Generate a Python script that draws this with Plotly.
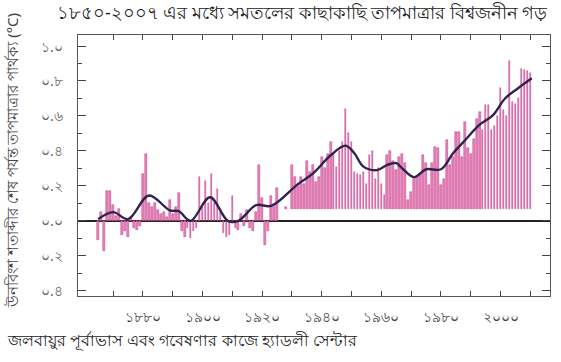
import plotly.graph_objects as go

# ---- data ----
years = list(range(1865, 2011))
bar_top = [
    -0.11, 0.05, -0.17, 0.17, 0.17, 0.09, 0.03, 0.07, -0.08, -0.06,   # 1865-1874
    -0.09, 0.02, -0.04, -0.05, -0.03, 0.27, 0.38, 0.10, 0.08, 0.10,   # 1875-1884
    0.06, 0.04, 0.05, 0.02, 0.12, 0.04, 0.08, 0.16, -0.06, -0.09,     # 1885-1894
    -0.04, -0.10, -0.06, -0.04, 0.25, 0.08, 0.23, 0.10, 0.27, 0.10,   # 1895-1904
    0.18, 0.05, -0.07, -0.09, -0.08, 0.14, -0.04, -0.05, 0.04, -0.03, # 1905-1914
    0.06, -0.04, -0.06, 0.05, 0.32, 0.13, -0.14, -0.06, 0.14, 0.08,   # 1915-1924
    0.19, None, None, 0.08, None, 0.32, 0.25, 0.20, 0.25, 0.21,       # 1925-1934
    0.34, 0.28, 0.32, 0.22, 0.25, 0.365, 0.30, 0.385, 0.45, 0.385,    # 1935-1944
    0.31, 0.40, 0.45, 0.64, 0.50, 0.45, 0.28, 0.27, 0.26, 0.28,       # 1945-1954
    0.21, 0.375, 0.40, 0.24, 0.30, 0.21, 0.145, 0.375, 0.40, 0.345,   # 1955-1964
    0.29, 0.365, 0.385, 0.33, 0.12, 0.165, 0.24, 0.25, 0.27, 0.375,   # 1965-1974
    0.33, 0.205, 0.33, 0.42, 0.415, 0.205, 0.24, 0.46, 0.32, 0.365,   # 1975-1984
    0.51, 0.51, 0.365, 0.565, 0.415, 0.385, 0.47, 0.585, 0.62, 0.52,  # 1985-1994
    0.66, 0.66, 0.52, 0.54, 0.60, 0.76, 0.635, 0.60, 0.915, 0.68,     # 1995-2004
    0.67, 0.70, 0.87, 0.86, 0.855, 0.845,                             # 2005-2010
]
bar_base = [0.0] * 61 + [0.065] * 85

smooth_years = [1865, 1870, 1875, 1882, 1889, 1892, 1896, 1902.5, 1908.5, 1912,
                1918, 1923, 1932, 1937, 1943, 1948, 1951, 1954, 1958.5, 1962,
                1965, 1967, 1971, 1975, 1980, 1984, 1987.5, 1993, 1997.5, 2001.5,
                2006, 2010.5]
smooth_vals = [0.01, 0.05, 0.01, 0.145, 0.06, 0.055, 0.0, 0.135, 0.0, 0.0,
               0.09, 0.085, 0.21, 0.27, 0.375, 0.43, 0.385, 0.31, 0.29, 0.32,
               0.33, 0.30, 0.25, 0.295, 0.295, 0.385, 0.45, 0.55, 0.605, 0.70,
               0.76, 0.815]

x_tickvals = [1870, 1880, 1890, 1900, 1910, 1920, 1930, 1940, 1950, 1960, 1970, 1980, 1990, 2000, 2010]
x_ticktext = ["", "১৮৮০", "", "১৯০০", "", "১৯২০", "", "১৯৪০", "", "১৯৬০", "", "১৯৮০", "", "২০০০", ""]
y_tickvals = [1.0, 0.8, 0.6, 0.4, 0.2, 0.0, -0.2, -0.4]
y_ticktext = ["১.০", "০.৮", "০.৬", "০.৪", "০.২", "০.০", "০.২", "০.৪"]

title_text = "১৮৫০-২০০৭ এর মধ্যে সমতলের কাছাকাছি তাপমাত্রার বিশ্বজনীন গড়"
ylabel_text = "উনবিংশ শতাব্দীর শেষ পর্যন্ত তাপমাত্রার পার্থক্য (°C)"
footer_text = "জলবায়ুর পূর্বাভাস এবং গবেষণার কাজে হ্যাডলী সেন্টার"

heights = [None if t is None else t - b for t, b in zip(bar_top, bar_base)]

fig = go.Figure()
fig.add_trace(go.Bar(
    x=years, y=heights, base=bar_base, width=0.55,
    marker=dict(color="rgba(230,120,180,0.92)", line=dict(color="#C23A85", width=0.5)),
    showlegend=False, hoverinfo="skip",
))
fig.add_trace(go.Scatter(
    x=smooth_years, y=smooth_vals, mode="lines",
    line=dict(color="#2E2450", width=2.4, shape="spline", smoothing=1.0),
    showlegend=False, hoverinfo="skip",
))

FONT = "Noto Sans, DejaVu Sans, sans-serif"

annotations = [
    dict(text=title_text, xref="paper", yref="paper", x=-0.049, y=1.088,
         xanchor="left", yanchor="middle", showarrow=False,
         font=dict(size=17.5, color="#222", family=FONT)),
    dict(text=ylabel_text, xref="paper", yref="paper", x=-0.14, y=0.52,
         xanchor="center", yanchor="middle", textangle=-90, showarrow=False,
         font=dict(size=15, color="#444", family=FONT)),
    dict(text=footer_text, xref="paper", yref="paper", x=-0.155, y=-0.168,
         xanchor="left", yanchor="middle", showarrow=False,
         font=dict(size=16, color="#222", family=FONT)),
]
# y tick labels placed on the y scale
for v, t in zip(y_tickvals, y_ticktext):
    annotations.append(dict(text=t, xref="paper", yref="y", x=-0.027, y=v,
                            xanchor="right", yanchor="middle", showarrow=False,
                            font=dict(size=14, color="#666", family=FONT)))

fig.update_layout(
    width=561, height=362,
    margin=dict(l=78, r=11, t=35, b=66),
    paper_bgcolor="white", plot_bgcolor="white",
    font=dict(family=FONT, color="#333"),
    bargap=0,
    xaxis=dict(
        range=[1858.2, 2016.6], tickvals=x_tickvals, ticktext=x_ticktext,
        ticks="inside", ticklen=5, tickcolor="#444", tickwidth=1,
        showline=True, linecolor="#555", linewidth=1, mirror="ticks",
        showgrid=False, zeroline=False, ticklabelstandoff=8,
        tickfont=dict(size=14, color="#444"),
    ),
    yaxis=dict(
        range=[-0.43, 1.063], tickvals=y_tickvals, showticklabels=False,
        ticks="inside", ticklen=8, tickcolor="#444", tickwidth=1,
        minor=dict(dtick=0.1, tick0=0, ticks="inside", ticklen=4, tickcolor="#444"),
        showline=True, linecolor="#555", linewidth=1, mirror="ticks",
        showgrid=False, zeroline=True, zerolinecolor="#222", zerolinewidth=1.5,
    ),
    annotations=annotations,
)

fig.write_html("out.html")
